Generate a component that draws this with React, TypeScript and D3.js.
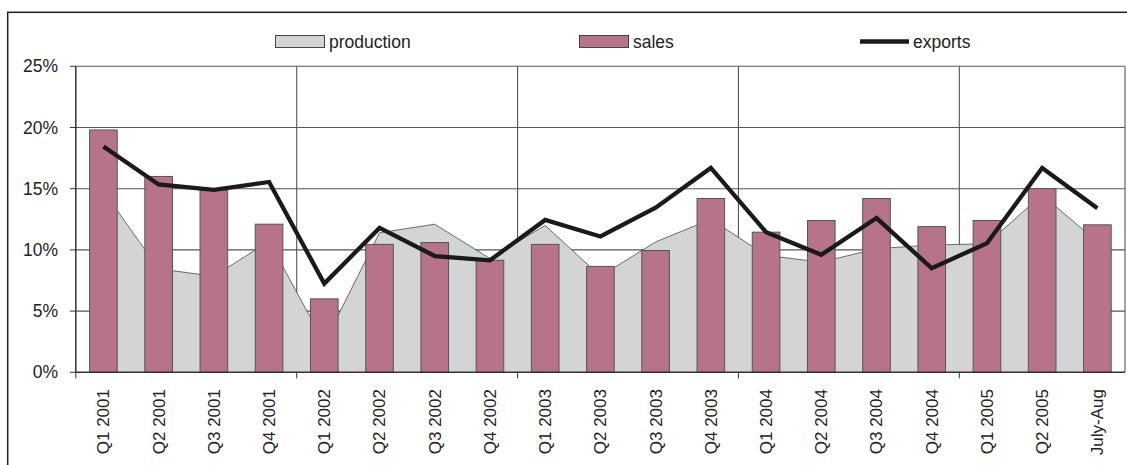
import React from "react";
import * as d3 from "d3";

const categories = [
  "Q1 2001", "Q2 2001", "Q3 2001", "Q4 2001",
  "Q1 2002", "Q2 2002", "Q3 2002", "Q4 2002",
  "Q1 2003", "Q2 2003", "Q3 2003", "Q4 2003",
  "Q1 2004", "Q2 2004", "Q3 2004", "Q4 2004",
  "Q1 2005", "Q2 2005", "July-Aug",
];
const production = [14.8, 8.45, 7.85, 10.7, 2.4, 11.4, 12.1, 9.3, 12.0, 7.85, 10.65, 12.5, 9.55, 9.0, 10.1, 10.4, 10.5, 14.5, 10.65];
const sales = [19.8, 16.0, 14.9, 12.1, 6.0, 10.45, 10.6, 9.15, 10.45, 8.65, 9.95, 14.2, 11.45, 12.4, 14.2, 11.9, 12.4, 15.0, 12.05];
const exportsData = [18.45, 15.35, 14.9, 15.55, 7.25, 11.8, 9.5, 9.15, 12.45, 11.1, 13.45, 16.7, 11.45, 9.6, 12.6, 8.5, 10.55, 16.7, 13.4];
const yTicks = [0, 5, 10, 15, 20, 25];
const legendLabels = ["production", "sales", "exports"];

const W = 1127;
const H = 465;
const L = 75.8;
const R = 1125;
const T = 66.3;
const B = 372.3;

const FONT = "'Liberation Sans', Arial, sans-serif";
const SALES_FILL = "#b77388";
const PROD_FILL = "#d3d4d6";

export default function App() {
  const x = d3.scaleBand<string>().domain(categories).range([L, R]).paddingInner(0.5).paddingOuter(0.25);
  const step = x.step();
  const bw = x.bandwidth();
  const cx = (c: string) => (x(c) as number) + bw / 2;
  const y = d3.scaleLinear().domain([0, 25]).range([B, T]);

  const area = d3
    .area<number>()
    .x((_, i) => cx(categories[i]))
    .y0(y(0))
    .y1((d) => y(d));
  const topLine = d3
    .line<number>()
    .x((_, i) => cx(categories[i]))
    .y((d) => y(d));

  const vGrid = [1, 2, 3, 4].map((k) => L + k * 4 * step);

  return (
    <svg
      width={W}
      height={H}
      style={{ position: "absolute", left: 0, top: 0, background: "#fff" }}
      fontFamily={FONT}
    >
      {/* outer frame */}
      <rect x={7.7} y={12.3} width={W + 20} height={H + 20} fill="none" stroke="#222" strokeWidth={1.5} />

      {/* grid */}
      {yTicks.slice(1).map((t) => (
        <line key={"h" + t} x1={L} x2={R} y1={y(t)} y2={y(t)} stroke="#555" strokeWidth={1.1} />
      ))}
      {vGrid.map((gx, i) => (
        <line key={"v" + i} x1={gx} x2={gx} y1={T} y2={B} stroke="#555" strokeWidth={1.1} />
      ))}
      <line x1={R} x2={R} y1={T} y2={B} stroke="#555" strokeWidth={1.1} />

      {/* production area */}
      <path d={area(production) || ""} fill={PROD_FILL} stroke="none" />
      <path d={topLine(production) || ""} fill="none" stroke="#333" strokeWidth={0.7} />

      {/* sales bars */}
      {sales.map((v, i) => (
        <rect
          key={"b" + i}
          x={x(categories[i]) as number}
          y={y(v)}
          width={bw}
          height={y(0) - y(v)}
          fill={SALES_FILL}
          stroke="#555"
          strokeWidth={1}
        />
      ))}

      {/* exports line */}
      <path d={topLine(exportsData) || ""} fill="none" stroke="#1a1a1a" strokeWidth={4.3} strokeLinejoin="miter" />

      {/* axes */}
      <line x1={L} x2={L} y1={T} y2={B} stroke="#333" strokeWidth={1.5} />
      <line x1={L} x2={R} y1={B} y2={B} stroke="#333" strokeWidth={1.5} />
      {yTicks.map((t) => (
        <g key={"yt" + t}>
          <line x1={L - 6} x2={L} y1={y(t)} y2={y(t)} stroke="#333" strokeWidth={1} />
          <text x={58} y={y(t)} dy="0.35em" textAnchor="end" fontSize={17.5} fill="#222">
            {t + "%"}
          </text>
        </g>
      ))}
      {[L, ...vGrid].map((gx, i) => (
        <line key={"xt" + i} x1={gx} x2={gx} y1={B} y2={B + 6} stroke="#333" strokeWidth={1} />
      ))}
      {categories.map((c) => (
        <text
          key={"xl" + c}
          transform={`translate(${cx(c)},${389}) rotate(-90)`}
          textAnchor="end"
          dy="0.35em"
          fontSize={17}
          fill="#222"
        >
          {c}
        </text>
      ))}

      {/* legend */}
      <rect x={275.5} y={35.5} width={49} height={12} fill={PROD_FILL} stroke="#444" strokeWidth={1} />
      <text x={329} y={47.5} fontSize={17.5} fill="#222">{legendLabels[0]}</text>
      <rect x={579.5} y={35.5} width={49} height={12} fill={SALES_FILL} stroke="#444" strokeWidth={1} />
      <text x={633} y={47.5} fontSize={17.5} fill="#222">{legendLabels[1]}</text>
      <line x1={860} x2={909} y1={41.5} y2={41.5} stroke="#1a1a1a" strokeWidth={4.3} />
      <text x={913} y={47.5} fontSize={17.5} fill="#222">{legendLabels[2]}</text>
    </svg>
  );
}
